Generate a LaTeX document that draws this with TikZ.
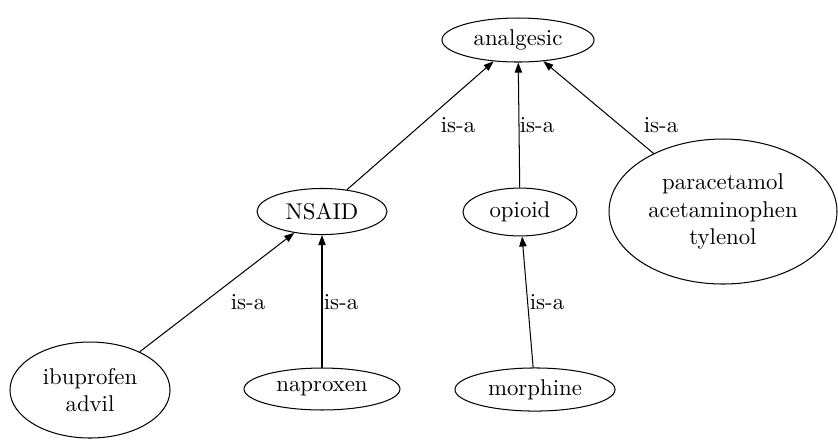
\documentclass[tikz,border=0pt]{standalone}
\usetikzlibrary{arrows.meta,shapes.geometric}
\begin{document}
\begin{tikzpicture}[x=0.4386pt, y=-0.4386pt,
  concept/.style={draw, ellipse, inner sep=0pt, line width=0.45pt, align=center},
  isa/.style={-{Triangle[length=4.4pt,width=3.2pt]}, line width=0.45pt},
  lbl/.style={inner sep=0pt}]
\useasboundingbox (0,0) rectangle (838,439);
\node[concept, minimum width=66.7pt, minimum height=19.3pt] (analgesic) at (518,40) {analgesic};
\node[concept, minimum width=57pt, minimum height=20.2pt] (nsaid) at (322,211.5) {NSAID};
\node[concept, minimum width=50pt, minimum height=21pt] (opioid) at (520,212) {opioid};
\node[concept, minimum width=100pt, minimum height=63.6pt] (para) at (723,211.5) {paracetamol\\acetaminophen\\tylenol};
\node[concept, minimum width=70.2pt, minimum height=42.1pt] (ibu) at (90,390) {ibuprofen\\advil};
\node[concept, minimum width=68.4pt, minimum height=18.4pt] (napro) at (322,389) {naproxen};
\node[concept, minimum width=70.2pt, minimum height=18.9pt] (morph) at (535,389.5) {morphine};
\draw[isa] (nsaid) -- (analgesic);
\draw[isa] (opioid) -- (analgesic);
\draw[isa] (para) -- (analgesic);
\draw[isa] (ibu) -- (nsaid);
\draw[isa] (napro) -- (nsaid);
\draw[isa] (morph) -- (opioid);
\node[lbl] (l1) at (458,125) {is-a};
\node[lbl] (l2) at (537,125) {is-a};
\node[lbl] (l3) at (661,125) {is-a};
\node[lbl] (l4) at (248,302) {is-a};
\node[lbl] (l5) at (341,302) {is-a};
\node[lbl] (l6) at (547,302) {is-a};
\end{tikzpicture}
\end{document}
